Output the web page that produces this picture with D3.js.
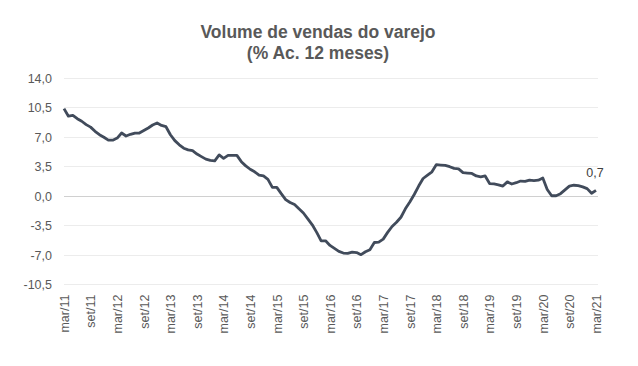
<!DOCTYPE html>
<html><head><meta charset="utf-8">
<script src="https://cdn.jsdelivr.net/npm/d3@7"></script>
<style>body{margin:0;background:#fff}svg{display:block}</style>
</head><body><svg id="c" width="638" height="366"></svg>
<script>
const titleLines = ["Volume de vendas do varejo", "(% Ac. 12 meses)"];
const monthNames = ["jan","fev","mar","abr","mai","jun","jul","ago","set","out","nov","dez"];
// monthly values mar/11 .. mar/21
const values = [
 10.4, 9.5, 9.6, 9.2, 8.9, 8.5, 8.2, 7.7, 7.3, 7.0, 6.65, 6.65,
 6.9, 7.5, 7.15, 7.35, 7.5, 7.5, 7.8, 8.1, 8.45, 8.7, 8.4, 8.25,
 7.3, 6.6, 6.1, 5.7, 5.5, 5.4, 5.0, 4.7, 4.4, 4.25, 4.2, 4.9,
 4.5, 4.85, 4.85, 4.85, 4.1, 3.6, 3.2, 2.9, 2.5, 2.4, 2.0, 1.05,
 1.05, 0.3, -0.4, -0.75, -1.0, -1.5, -2.0, -2.7, -3.4, -4.3, -5.3, -5.3,
 -5.85, -6.2, -6.55, -6.75, -6.8, -6.65, -6.7, -6.95, -6.6, -6.35, -5.5, -5.45,
 -5.1, -4.3, -3.6, -3.1, -2.5, -1.5, -0.7, 0.2, 1.2, 2.1, 2.5, 2.9,
 3.75, 3.7, 3.65, 3.5, 3.3, 3.25, 2.8, 2.75, 2.7, 2.4, 2.3, 2.4,
 1.5, 1.45, 1.35, 1.2, 1.7, 1.45, 1.6, 1.8, 1.75, 1.9, 1.85, 1.9,
 2.15, 0.8, 0.05, 0.05, 0.3, 0.75, 1.2, 1.3, 1.25, 1.1, 0.9, 0.35,
 0.7
];
const startYear = 2011, startMonth = 2; // março
const categories = values.map((v, i) => {
  const m = (startMonth + i) % 12, y = startYear + Math.floor((startMonth + i) / 12);
  return monthNames[m] + "/" + String(y).slice(2);
});
const tickLabels = categories.filter((c, i) => i % 6 === 0);
const yTicks = [14, 10.5, 7, 3.5, 0, -3.5, -7, -10.5];
const lastLabel = "0,7";

const svg = d3.select("#c");
const L = 64, R = 596, T = 78.3, B = 284.6;
const x = d3.scalePoint().domain(categories).range([L, R]);
const y = d3.scaleLinear().domain([-10.5, 14]).range([B, T]);
const fmt = v => d3.format(".1f")(v).replace(".", ",").replace("−", "-");
const font = "'Liberation Sans', Arial, sans-serif";

// gridlines
svg.append("g").selectAll("line").data(yTicks).join("line")
  .attr("x1", L).attr("x2", R + 2).attr("y1", d => y(d)).attr("y2", d => y(d))
  .attr("stroke", d => d === 0 ? "#d0d0d0" : "#ececec").attr("stroke-width", 1)
  .attr("shape-rendering", "crispEdges");

// y axis
const ya = svg.append("g").attr("transform", `translate(${L},0)`)
  .call(d3.axisLeft(y).tickValues(yTicks).tickFormat(fmt).tickSize(0).tickPadding(12));
ya.select(".domain").remove();
ya.selectAll("text").attr("fill", "#595959").style("font-family", font).style("font-size", "12.5px");

// x axis
const xa = svg.append("g").attr("transform", `translate(0,${B})`)
  .call(d3.axisBottom(x).tickValues(tickLabels).tickSize(0));
xa.select(".domain").remove();
xa.selectAll("text")
  .attr("transform", "rotate(-90)")
  .attr("text-anchor", "end").attr("x", -10).attr("y", 0).attr("dy", "0.35em")
  .attr("fill", "#595959").style("font-family", font).style("font-size", "12.5px");

// line
svg.append("path").datum(values)
  .attr("fill", "none").attr("stroke", "#414b5b").attr("stroke-width", 2.8)
  .attr("stroke-linejoin", "round")
  .attr("d", d3.line().x((d, i) => x(categories[i])).y(d => y(d)));

// data label
svg.append("text").attr("x", x(categories[categories.length - 1]) - 1).attr("y", y(values[values.length - 1]) - 13)
  .attr("text-anchor", "middle").attr("fill", "#404040")
  .style("font-family", font).style("font-size", "12.5px").text(lastLabel);

// title
svg.append("text").attr("x", 318).attr("y", 38).attr("text-anchor", "middle")
  .attr("fill", "#595959").style("font-family", font).style("font-size", "17.5px").style("font-weight", "bold")
  .selectAll("tspan").data(titleLines).join("tspan")
  .attr("x", 318).attr("dy", (d, i) => i ? 20.5 : 0).text(d => d);
</script></body></html>
